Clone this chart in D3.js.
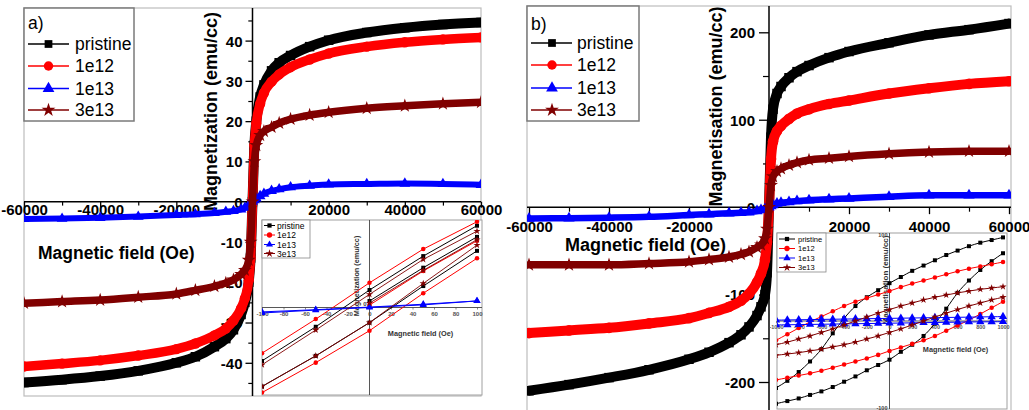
<!DOCTYPE html>
<html><head><meta charset="utf-8">
<script src="https://cdn.jsdelivr.net/npm/d3@7/dist/d3.min.js"></script>
<style>
html,body{margin:0;padding:0;background:#fff;}
svg text{font-family:Arial,"Liberation Sans",Helvetica,sans-serif;}
</style></head><body>
<svg id="chart" width="1029" height="410"></svg>
<script>
// ---------------- data ----------------
const seriesNames = ["pristine", "1e12", "1e13", "3e13"];
const seriesColors = ["#000000", "#ff0000", "#0000ff", "#800000"];

const mainField = [-60000,-50000,-40000,-30000,-20000,-15000,-10000,-7000,-5000,-3000,-2000,-1000,-500,0,500,1000,2000,3000,5000,7000,10000,15000,20000,30000,40000,50000,60000];

// panel a (emu/cc)
const aPristine = [-44.9,-44.2,-43.3,-42,-40,-38.5,-36,-34,-31.8,-28,-25,-20,-14,0,14,20,26,29,32.5,34.5,36.3,38.5,40.1,42,43.2,44,44.5];
const a1e12 = [-40.9,-40.2,-39.4,-38.2,-36.6,-35.2,-33.2,-31.5,-29.5,-26.5,-24,-19.5,-14,0,14,19.5,24.3,27,29.8,31.6,33.4,35.3,36.8,38.5,39.6,40.3,40.8];
const a1e13 = [-4.3,-4.2,-4.0,-3.7,-3.3,-3.1,-2.8,-2.5,-2.3,-1.9,-1.5,-0.9,-0.5,0,0.4,0.8,1.4,2.0,2.7,3.1,3.6,4.0,4.3,4.4,4.5,4.4,4.2];
const a3e13 = [-25.2,-24.8,-24.4,-23.7,-22.9,-22,-21,-20.2,-19.4,-18,-17,-14.5,-10,0,10,14,16.5,17.5,18.5,19.5,20.5,21.5,22.2,23.2,23.8,24.3,24.7];

// panel b (emu/cc)
const bPristine = [-210,-203,-195,-186,-174,-166,-155,-146,-137,-124,-114,-100,-75,0,80,112,130,138,148,155,162,171,178,188,197,203,210];
const b1e12 = [-144,-141,-138,-133,-127,-121,-114,-107,-99,-86,-76,-60,-40,0,55,75,87,93,101,107,112,118,122,130,136,141,144];
const b1e13 = [-13,-12.6,-12,-11,-9,-8,-7,-6.3,-5.7,-4.5,-3.3,-2,-1,0,1.3,2.5,4.2,5,6,7,8,9,10,12,13.5,13.7,13.5];
const b3e13 = [-66,-66,-66,-64.5,-62.5,-60,-57,-54,-51,-46,-43,-36,-25,0,25,35,41,44,48,51,54,56,58,61,63,64,64];

const mainXTicks = [-60000,-40000,-20000,20000,40000,60000];
const mainXMinor = [-50000,-30000,-10000,10000,30000,50000];
const aYTicks = [-40,-30,-20,-10,0,10,20,30,40];
const aYMinor = [-45,-35,-25,-15,-5,5,15,25,35,45];
const bYTicks = [-200,-100,0,100,200];
const bYMinor = [-150,-50,50,150];

// inset a (low field, +-100 Oe)
const insetAField = [-100,-50,0,50,100];
const insetAInitField = [0,50,100];
const iaPristineDesc = [-2.44,-0.88,0.8,2.35,3.74];
const iaPristineAsc = [-3.61,-2.21,-0.69,0.98,2.59];
const iaPristineInit = [0.3,1.82,3.23];
const ia1e12Desc = [-2.09,-0.53,1.13,2.67,3.92];
const ia1e12Asc = [-3.89,-2.52,-1.06,0.65,2.25];
const ia1e12Init = [0.11,1.67,3.05];
const ia1e13Desc = [-0.2,-0.1,0.02,0.15,0.3];
const ia1e13Asc = [-0.25,-0.12,0.0,0.12,0.3];
const ia3e13Desc = [-2.62,-1.03,0.6,2.2,3.49];
const ia3e13Asc = [-3.61,-2.21,-0.69,1.1,2.85];
const ia3e13Init = [0.2,1.7,3.1];
const insetATicks = [-100,-80,-60,-40,-20,0,20,40,60,80,100];

// inset b (low field, +-1000 Oe)
const insetBField = [-1000,-900,-800,-700,-600,-500,-400,-300,-200,-100,0,100,200,300,400,500,600,700,800,900,1000];
const ibPristineDesc = [-76,-68,-58,-46,-32,-14,3,17,27,35,43,50,57,63,69,75,80,85,89,92,95];
const ibPristineAsc = [-94,-91,-88,-84,-80,-75,-69,-63,-56,-50,-44,-35,-27,-17,-3,14,32,46,58,68,77];
const ib1e12Desc = [-22,-15,-8,-1,5,11,17,22,26,30,34,38.5,42.5,46,49.5,53,56.5,59.5,62,64.5,67];
const ib1e12Asc = [-67,-64.5,-62,-59.5,-56.5,-53,-49.5,-46,-42.5,-38.5,-34,-30,-26,-22,-17,-11,-5,1,8,15,22];
const ib1e13Desc = [1,1.2,1.4,1.6,1.8,2,2.2,2.4,2.6,2.8,3,3.2,3.4,3.6,3.8,4,4.2,4.4,4.6,4.8,5];
const ib1e13Asc = [-4.5,-4.3,-4.1,-3.9,-3.7,-3.5,-3.3,-3.1,-2.9,-2.7,-2.5,-2.3,-2.1,-1.9,-1.7,-1.5,-1.3,-1.1,-1,-0.9,-0.8];
const ib3e13Desc = [-27,-24,-20.5,-17,-13,-9,-4.5,0,4.5,9,13,17,20.5,24,27,29.5,32,34,36,37.5,39];
const ib3e13Asc = [-39,-37.5,-36,-34,-32,-29.5,-27,-24,-20.5,-17,-13,-9,-4.5,0,4.5,9,13,17,20.5,24,27];
const insetBTicks = [-1000,-800,-600,-400,-200,0,200,400,600,800,1000];

// ---------------- drawing ----------------
const svg = d3.select("#chart");
const symbolTypes = [d3.symbolSquare, d3.symbolCircle, d3.symbolTriangle, d3.symbolStar];
const zip = (xs, ys) => xs.map((v, i) => [v, ys[i]]);
let clipCount = 0;
function makeClip(x0, y0, x1, y1) {
  const id = "clip" + (clipCount++);
  svg.append("clipPath").attr("id", id).append("rect")
    .attr("x", x0).attr("y", y0).attr("width", x1 - x0).attr("height", y1 - y0);
  return "url(#" + id + ")";
}
function drawSeries(g, pts, x, y, idx, lw, msize, curve) {
  g.append("path").datum(pts)
    .attr("d", d3.line().x(d => x(d[0])).y(d => y(d[1])).curve(curve))
    .attr("fill", "none").attr("stroke", seriesColors[idx])
    .attr("stroke-width", lw).attr("stroke-linejoin", "round").attr("stroke-linecap", "round");
  g.selectAll(null).data(pts).join("path")
    .attr("transform", d => `translate(${x(d[0])},${y(d[1])})`)
    .attr("d", d3.symbol().type(symbolTypes[idx]).size(msize))
    .attr("fill", seriesColors[idx]);
}
function drawLegend(g, box, tag, tagPos, rows, lineX, markX, textX, fs, msizes, stroke, sw) {
  g.append("rect").attr("x", box[0]).attr("y", box[1]).attr("width", box[2] - box[0]).attr("height", box[3] - box[1])
    .attr("fill", "#fff").attr("stroke", stroke).attr("stroke-width", sw);
  if (tag) g.append("text").attr("x", tagPos[0]).attr("y", tagPos[1]).attr("font-size", fs).attr("fill", "#000").text(tag);
  seriesNames.forEach((name, i) => {
    const yy = rows[i];
    g.append("line").attr("x1", lineX[0]).attr("x2", lineX[1]).attr("y1", yy).attr("y2", yy)
      .attr("stroke", seriesColors[i]).attr("stroke-width", fs > 12 ? 1.5 : 1);
    g.append("path").attr("transform", `translate(${markX},${yy})`)
      .attr("d", d3.symbol().type(symbolTypes[i]).size(msizes[i])).attr("fill", seriesColors[i]);
    g.append("text").attr("x", textX).attr("y", yy + fs * 0.36).attr("font-size", fs).attr("fill", "#000").text(name);
  });
}

function mainPanel(c) {
  const g = svg.append("g");
  const x = d3.scaleLinear().domain([-60000, 60000]).range(c.xRange);
  const y = d3.scaleLinear().domain(c.yDomain).range(c.yRange);
  const [fx0, fy0, fx1, fy1] = c.frame;
  g.append("rect").attr("x", fx0).attr("y", fy0).attr("width", fx1 - fx0).attr("height", fy1 - fy0)
    .attr("fill", "#fff").attr("stroke", "#bdbdbd").attr("stroke-width", 1.2);

  // y axis ticks + labels
  const ya = g.append("g").attr("transform", `translate(${x(0)},0)`)
    .call(d3.axisLeft(y).tickValues(c.yTicks).tickSize(c.yTickLen).tickPadding(c.yPad).tickFormat(d => String(d)));
  ya.select(".domain").remove();
  ya.selectAll("line").attr("stroke", "#000").attr("stroke-width", 1.3);
  ya.selectAll("text").attr("font-size", 15).attr("font-weight", "bold").attr("fill", "#000").attr("dy", "0.36em");
  const yam = g.append("g").attr("transform", `translate(${x(0)},0)`)
    .call(d3.axisLeft(y).tickValues(c.yMinor).tickSize(c.yTickLen * 0.6).tickFormat(() => ""));
  yam.select(".domain").remove();
  yam.selectAll("line").attr("stroke", "#000").attr("stroke-width", 1.2);

  // x axis ticks + labels
  const xa = g.append("g").attr("transform", `translate(0,${y(0)})`)
    .call(d3.axisBottom(x).tickValues(mainXTicks).tickSize(c.xTickLen).tickFormat(d => String(d)));
  xa.select(".domain").remove();
  xa.selectAll("line").attr("stroke", "#000").attr("stroke-width", 1.3);
  xa.selectAll("text").attr("y", c.xLabelOff).attr("dy", "0.71em").attr("font-size", 15).attr("font-weight", "bold").attr("fill", "#000");
  const xam = g.append("g").attr("transform", `translate(0,${y(0)})`)
    .call(d3.axisBottom(x).tickValues(mainXMinor).tickSize(c.xTickLen * 0.65).tickFormat(() => ""));
  xam.select(".domain").remove();
  xam.selectAll("line").attr("stroke", "#000").attr("stroke-width", 1.2);

  // axis lines
  g.append("line").attr("x1", fx0).attr("x2", fx1).attr("y1", y(0)).attr("y2", y(0)).attr("stroke", "#000").attr("stroke-width", 1.5);
  g.append("line").attr("x1", x(0)).attr("x2", x(0)).attr("y1", fy0).attr("y2", fy1).attr("stroke", "#000").attr("stroke-width", 1.5);

  // titles
  g.append("text").attr("x", c.xt[0]).attr("y", c.xt[1]).attr("font-size", c.xt[2]).attr("font-weight", "bold").attr("fill", "#000").text("Magnetic field (Oe)");
  g.append("text").attr("transform", `translate(${c.yt[0]},${c.yt[1]}) rotate(-90)`).attr("text-anchor", "middle")
    .attr("font-size", c.yt[2]).attr("font-weight", "bold").attr("fill", "#000").text(c.ytitle);

  // data
  const dg = g.append("g").attr("clip-path", makeClip(fx0, fy0, fx1, fy1));
  c.series.forEach((vals, i) => {
    drawSeries(dg, zip(mainField, vals), x, y, i, c.lw[i], c.ms[i], d3.curveMonotoneX);
  });

  drawLegend(g, c.legBox, c.tag, c.tagPos, c.legRows, c.legLine, c.legMark, c.legText, 17.5, [60, 70, 60, 60], "#7a7a7a", 1.5);
}

mainPanel({
  frame: [24, 8, 481, 396], xRange: [24, 481], yDomain: [-40, 40], yRange: [362.8, 40.6],
  yTicks: aYTicks, yMinor: aYMinor, yTickLen: 7, yPad: 3, xTickLen: 6, xLabelOff: 2.5,
  xt: [38, 259, 17.5], yt: [217, 111.5, 18], ytitle: "Magnetization (emu/cc)",
  series: [aPristine, a1e12, a1e13, a3e13], lw: [10, 9.5, 6, 7.5], ms: [90, 85, 50, 60],
  legBox: [24, 8, 134, 121], tag: "a)", tagPos: [28, 29], legRows: [44, 66, 88.5, 110],
  legLine: [28, 69], legMark: 48.5, legText: 75
});
mainPanel({
  frame: [527, 6, 1011, 415], xRange: [529, 1009], yDomain: [-200, 200], yRange: [382, 32.3],
  yTicks: bYTicks, yMinor: bYMinor, yTickLen: 10, yPad: 4, xTickLen: 7, xLabelOff: 14.5,
  xt: [565, 251, 18], yt: [722, 106.5, 18], ytitle: "Magnetisation (emu/cc)",
  series: [bPristine, b1e12, b1e13, b3e13], lw: [10, 10, 6.5, 7.5], ms: [90, 90, 55, 60],
  legBox: [527, 6, 639, 121], tag: "b)", tagPos: [531, 30], legRows: [43, 65, 88, 110],
  legLine: [531, 572], legMark: 552, legText: 577
});

// ---------------- insets ----------------
function insetFrame(g, fr, x, y, ticks, tickFs) {
  g.append("rect").attr("x", fr[0]).attr("y", fr[1]).attr("width", fr[2] - fr[0]).attr("height", fr[3] - fr[1])
    .attr("fill", "#fff").attr("stroke", "#a0a0a0").attr("stroke-width", 1);
  const xa = g.append("g").attr("transform", `translate(0,${y(0)})`)
    .call(d3.axisBottom(x).tickValues(ticks).tickSize(2).tickPadding(2).tickFormat(d => String(d)));
  xa.select(".domain").remove();
  xa.selectAll("line").attr("stroke", "#555").attr("stroke-width", 0.7);
  xa.selectAll("text").attr("font-size", tickFs).attr("font-weight", "bold").attr("fill", "#555");
  g.append("line").attr("x1", fr[0]).attr("x2", fr[2]).attr("y1", y(0)).attr("y2", y(0)).attr("stroke", "#444").attr("stroke-width", 0.9);
  g.append("line").attr("x1", x(0)).attr("x2", x(0)).attr("y1", fr[1]).attr("y2", fr[3]).attr("stroke", "#444").attr("stroke-width", 0.9);
}

// inset a
(function () {
  const g = svg.append("g");
  const fr = [262, 220, 482, 395];
  const x = d3.scaleLinear().domain([-100, 100]).range([262, 477]);
  const y = d3.scaleLinear().domain([-4, 4]).range([395, 220]);
  insetFrame(g, fr, x, y, insetATicks, 6);
  g.append("text").attr("x", x(0) - 3).attr("y", y(0) - 1.5).attr("text-anchor", "end").attr("font-size", 6).attr("font-weight", "bold").attr("fill", "#444").text("0");
  g.append("text").attr("x", 420.5).attr("y", 335.8).attr("text-anchor", "middle").attr("font-size", 7.3).attr("font-weight", "bold").attr("fill", "#333").text("Magnetic field (Oe)");
  g.append("text").attr("transform", "translate(358.5,276) rotate(-90)").attr("text-anchor", "middle").attr("font-size", 7.3).attr("font-weight", "bold").attr("fill", "#333").text("Magnetization (emu/cc)");
  const dg = g.append("g").attr("clip-path", makeClip(fr[0], fr[1], fr[2], fr[3]));
  const branches = [
    [0, insetAField, iaPristineDesc], [0, insetAField, iaPristineAsc], [0, insetAInitField, iaPristineInit],
    [1, insetAField, ia1e12Desc], [1, insetAField, ia1e12Asc], [1, insetAInitField, ia1e12Init],
    [2, insetAField, ia1e13Desc], [2, insetAField, ia1e13Asc],
    [3, insetAField, ia3e13Desc], [3, insetAField, ia3e13Asc], [3, insetAInitField, ia3e13Init]
  ];
  const order = [0, 1, 2, 3];
  order.forEach(si => branches.filter(b => b[0] === si).forEach(b => {
    drawSeries(dg, zip(b[1], b[2]), x, y, si, si === 3 ? 0.9 : 1, si === 2 ? 22 : 16, d3.curveLinear);
  }));
  drawLegend(g, [262, 220, 310, 258], null, null, [225.5, 235, 244.5, 253.5], [264, 275], 269.5, 277, 8.5, [18, 22, 22, 20], "#888", 0.8);
})();

// inset b
(function () {
  const g = svg.append("g");
  const fr = [777, 233, 1007, 409];
  const x = d3.scaleLinear().domain([-1000, 1000]).range([776, 1003]);
  const y = d3.scaleLinear().domain([-100, 100]).range([409, 233]);
  insetFrame(g, fr, x, y, insetBTicks, 5.5);
  g.append("text").attr("x", x(0) - 2).attr("y", y(100) + 4).attr("text-anchor", "end").attr("font-size", 5.5).attr("font-weight", "bold").attr("fill", "#444").text("100");
  g.append("text").attr("x", x(0) - 2).attr("y", y(-100) + 1).attr("text-anchor", "end").attr("font-size", 5.5).attr("font-weight", "bold").attr("fill", "#444").text("-100");
  g.append("text").attr("x", 955.5).attr("y", 351.5).attr("text-anchor", "middle").attr("font-size", 7.3).attr("font-weight", "bold").attr("fill", "#333").text("Magnetic field (Oe)");
  g.append("text").attr("transform", "translate(888,280) rotate(-90)").attr("text-anchor", "middle").attr("font-size", 8).attr("font-weight", "bold").attr("fill", "#333").text("Magnetisation (emu/cc)");
  const dg = g.append("g").attr("clip-path", makeClip(fr[0], fr[1], fr[2], fr[3]));
  const branches = [
    [0, ibPristineDesc], [0, ibPristineAsc],
    [1, ib1e12Desc], [1, ib1e12Asc],
    [2, ib1e13Desc], [2, ib1e13Asc],
    [3, ib3e13Desc], [3, ib3e13Asc]
  ];
  branches.forEach(b => {
    drawSeries(dg, zip(insetBField, b[1]), x, y, b[0], 1, b[0] === 2 ? 30 : 16, d3.curveMonotoneX);
  });
  drawLegend(g, [777, 233, 826, 272], null, null, [239, 248.5, 258, 267.5], [779, 795], 787, 798, 7.5, [18, 22, 24, 20], "#888", 0.8);
})();
</script>
</body></html>
